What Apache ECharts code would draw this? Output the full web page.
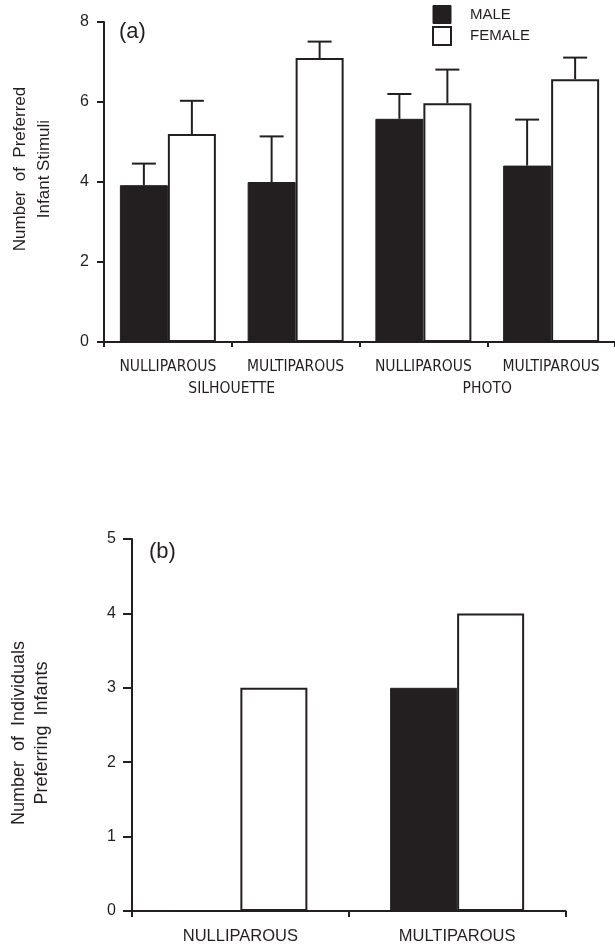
<!DOCTYPE html>
<html>
<head>
<meta charset="utf-8">
<script src="https://cdn.jsdelivr.net/npm/echarts@6/dist/echarts.min.js"></script>
<style>
html, body { margin: 0; padding: 0; background: #fff; }
#chart { width: 615px; height: 945px; }
</style>
</head>
<body>
<div id="chart"></div>
<script>
// panel (a): preferred infant stimuli
var catsA = ['NULLIPAROUS', 'MULTIPAROUS', 'NULLIPAROUS', 'MULTIPAROUS'];
var groupsA = ['SILHOUETTE', 'PHOTO'];
var maleA = [3.92, 4.0, 5.58, 4.41];
var maleErrA = [4.46, 5.14, 6.20, 5.56];
var femaleA = [5.2, 7.1, 5.97, 6.57];
var femaleErrA = [6.03, 7.51, 6.81, 7.11];

// panel (b): individuals preferring infants
var catsB = ['NULLIPAROUS', 'MULTIPAROUS'];
var maleB = [0, 3];
var femaleB = [3, 4];

var ink = '#231f20';
var sans = '"Liberation Sans", Arial, sans-serif';
var narrow = '"DejaVu Sans Condensed", "Liberation Sans", Arial, sans-serif';
var barA = 48;

// error bar = stem from mean up to upper value, with a cap
function errData(means, errs) {
	var t = [];
	for (var i = 0; i < means.length; i++) {
		t.push([i, means[i], errs[i]]);
	}
	return t;
}
function errRender(shift) {
	return function (params, api) {
		var base = api.coord([api.value(0), api.value(1)]);
		var top = api.coord([api.value(0), api.value(2)]);
		var x = base[0] + shift;
		var st = { stroke: ink, lineWidth: 2 };
		return {
			type: 'group',
			children: [
				{ type: 'line', shape: { x1: x, y1: base[1], x2: x, y2: top[1] }, style: st },
				{ type: 'line', shape: { x1: x - 12, y1: top[1], x2: x + 12, y2: top[1] }, style: st }
			]
		};
	};
}

var axisLine = { show: true, lineStyle: { color: ink, width: 2 } };

var myChart = echarts.init(document.getElementById('chart'));
var option = {
	backgroundColor: '#fff',
	animation: false,
	textStyle: { fontFamily: sans, color: ink },
	title: [
		{ text: '(a)', left: 114, top: 16, textStyle: { fontFamily: sans, fontSize: 22, fontWeight: 'normal', color: ink } },
		{ text: '(b)', left: 144, top: 536, textStyle: { fontFamily: sans, fontSize: 22, fontWeight: 'normal', color: ink } }
	],
	legend: {
		orient: 'vertical',
		left: 432,
		top: 5,
		padding: 0,
		itemWidth: 18,
		itemHeight: 18,
		itemGap: 2,
		icon: 'rect',
		selectedMode: false,
		textStyle: { fontFamily: sans, fontSize: 15, color: ink, padding: [0, 0, 0, 14] },
		data: [
			{ name: 'MALE', itemStyle: { color: ink, borderColor: ink, borderWidth: 1 } },
			{ name: 'FEMALE', itemStyle: { color: '#fff', borderColor: ink, borderWidth: 2 } }
		]
	},
	grid: [
		{ left: 100, top: 22, width: 520, height: 320 },
		{ left: 127.5, top: 539, width: 438, height: 374 }
	],
	xAxis: [
		{
			type: 'category', gridIndex: 0, data: catsA,
			axisLine: axisLine,
			axisTick: { show: true, length: 5, lineStyle: { color: ink, width: 2 } },
			axisLabel: { fontFamily: narrow, fontSize: 15.5, color: ink, margin: 17, interval: 0 }
		},
		{
			type: 'category', gridIndex: 0, data: groupsA, position: 'bottom', offset: 22,
			axisLine: { show: false }, axisTick: { show: false },
			axisLabel: { fontFamily: narrow, fontSize: 15.5, color: ink, margin: 17, interval: 0 }
		},
		{
			type: 'category', gridIndex: 1, data: catsB,
			axisLine: axisLine,
			axisTick: { show: true, length: 6, lineStyle: { color: ink, width: 2 } },
			axisLabel: { fontFamily: sans, fontSize: 16.5, color: ink, margin: 17, interval: 0 }
		}
	],
	yAxis: [
		{
			type: 'value', gridIndex: 0, min: 0, max: 8, interval: 2,
			axisLine: axisLine,
			axisTick: { show: true, inside: false, length: 7, lineStyle: { color: ink, width: 2 } },
			axisLabel: { fontSize: 16, color: ink, margin: 15 },
			splitLine: { show: false },
			name: 'Number  of  Preferred\nInfant Stimuli',
			nameLocation: 'middle', nameGap: 48,
			nameTextStyle: { fontFamily: sans, fontSize: 17, lineHeight: 24, color: ink, padding: [0, 0, 0, 26] }
		},
		{
			type: 'value', gridIndex: 1, min: 0, max: 5, interval: 1,
			axisLine: axisLine,
			axisTick: { show: true, inside: false, length: 9, lineStyle: { color: ink, width: 2 } },
			axisLabel: { fontSize: 16, color: ink, margin: 16 },
			splitLine: { show: false },
			name: 'Number  of  Individuals\nPreferring  Infants',
			nameLocation: 'middle', nameGap: 78,
			nameTextStyle: { fontFamily: sans, fontSize: 18, lineHeight: 23, color: ink, padding: [0, 16, 0, 0] }
		}
	],
	series: [
		{
			name: 'MALE', type: 'bar', xAxisIndex: 0, yAxisIndex: 0, data: maleA,
			barWidth: barA, barGap: '0%',
			itemStyle: { color: ink, borderColor: ink, borderWidth: 1 }
		},
		{
			name: 'FEMALE', type: 'bar', xAxisIndex: 0, yAxisIndex: 0, data: femaleA,
			barWidth: barA, barGap: '0%',
			itemStyle: { color: '#fff', borderColor: ink, borderWidth: 2 }
		},
		{
			name: 'male err', type: 'custom', xAxisIndex: 0, yAxisIndex: 0, z: 3,
			renderItem: errRender(-barA / 2), data: errData(maleA, maleErrA)
		},
		{
			name: 'female err', type: 'custom', xAxisIndex: 0, yAxisIndex: 0, z: 3,
			renderItem: errRender(barA / 2), data: errData(femaleA, femaleErrA)
		},
		{
			name: 'MALE', type: 'bar', xAxisIndex: 2, yAxisIndex: 1, data: maleB,
			barWidth: 67, barGap: '0%',
			itemStyle: { color: ink, borderColor: ink, borderWidth: 1 }
		},
		{
			name: 'FEMALE', type: 'bar', xAxisIndex: 2, yAxisIndex: 1, data: femaleB,
			barWidth: 67, barGap: '0%',
			itemStyle: { color: '#fff', borderColor: ink, borderWidth: 2 }
		}
	]
};
myChart.setOption(option);
window.addEventListener('resize', function () {
	myChart.resize();
});
</script>
</body>
</html>
